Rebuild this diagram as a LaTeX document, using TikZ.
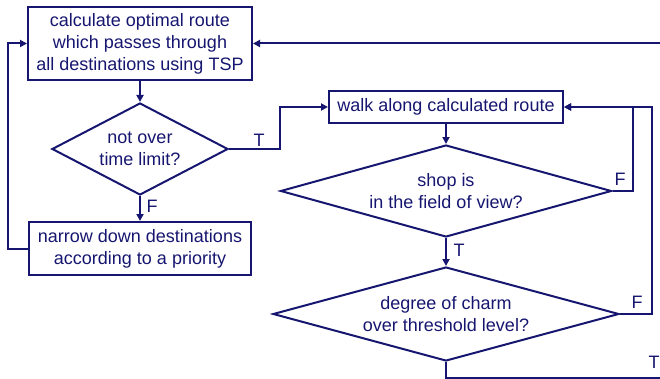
\documentclass[tikz,border=0pt]{standalone}
\usepackage{fontspec}
\setmainfont{Liberation Sans}
\usetikzlibrary{arrows.meta,shapes.geometric}
\definecolor{navy}{RGB}{22,22,112}
\tikzset{
  every node/.style={text=navy, font=\fontsize{18}{22}\selectfont},
  box/.style={draw=navy, line width=2pt, rectangle, align=center, inner sep=0pt},
  dia/.style={draw=navy, line width=2pt, diamond, align=center, inner sep=0pt},
  conn/.style={draw=navy, line width=2pt},
  arr/.style={conn, -{Triangle[length=7pt,width=7pt]}},
  lbl/.style={inner sep=0pt}
}
\begin{document}
\begin{tikzpicture}[x=1pt,y=-1pt]
\useasboundingbox (0,0) rectangle (660,379);
\node[box, minimum width=224pt, minimum height=73pt] (b1) at (140,43.5) {calculate optimal route\\which passes through\\all destinations using TSP};
\node[dia, aspect=1.9, minimum width=176pt, minimum height=92pt] (d1) at (140,149) {not over\\time limit?};
\node[box, minimum width=222pt, minimum height=53pt] (b3) at (140,248.5) {narrow down destinations\\according to a priority};
\node[box, minimum width=234pt, minimum height=32pt] (b2) at (446,107) {walk along calculated route};
\node[dia, aspect=3.6, minimum width=331pt, minimum height=92pt] (d2) at (446,191) {shop is\\in the field of view?};
\node[dia, aspect=3.68, minimum width=346pt, minimum height=94pt] (d3) at (446,314) {degree of charm\\over threshold level?};
\coordinate (entryR) at (660,43.5);
\coordinate (exitR) at (660,378);

\draw[arr] (b1) -- (d1);
\draw[arr] (d1.east) -- ++(51,0) |- (b2.west);
\draw[arr] (d1) -- (b3);
\draw[arr] (b3.west) -- ++(-20,0) |- (b1.west);
\draw[arr] (b2) -- (d2);
\draw[arr] (d2.east) -- ++(20,0) |- (b2.east);
\draw[arr] (d3.east) -- ++(32,0) |- (b2.east);
\draw[arr] (d2) -- (d3);
\draw[conn] (d3.south) |- (exitR);
\draw[arr] (entryR) -- (b1.east);

\node[lbl] (tl1) at (259,140) {T};
\node[lbl] (fl1) at (152,206) {F};
\node[lbl] (fl2) at (620,179) {F};
\node[lbl] (tl2) at (459,250) {T};
\node[lbl] (fl3) at (637,302) {F};
\node[lbl] (tl3) at (654,362) {T};
\end{tikzpicture}
\end{document}
